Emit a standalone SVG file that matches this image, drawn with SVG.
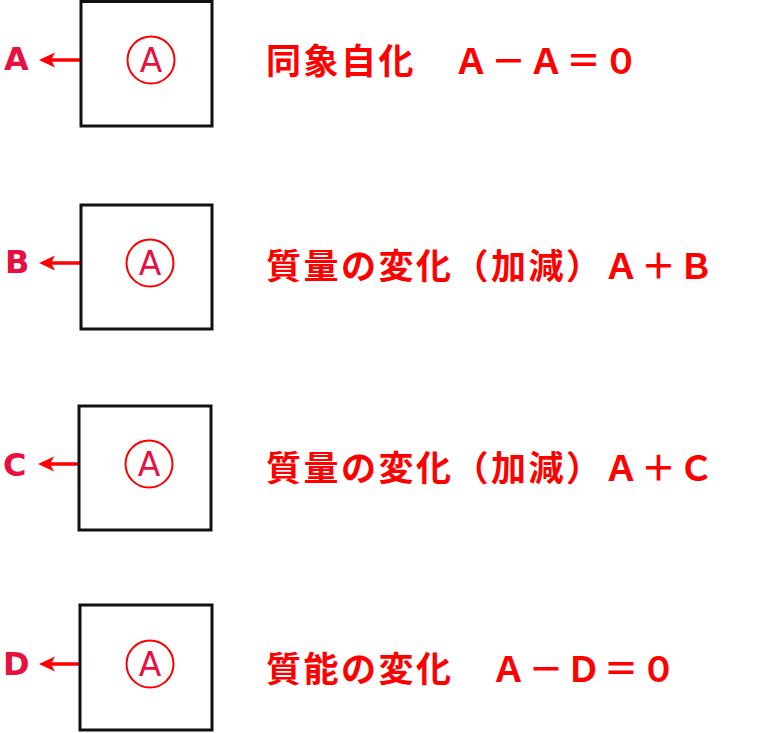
<svg xmlns="http://www.w3.org/2000/svg" width="769" height="733" viewBox="0 0 769 733">
<defs>
<path id="head" d="M0,0 L16,-7.5 L12,0 L16,7.5 Z" fill="#ff0000"/>
</defs>
<style>
.box{fill:#fff;stroke:#111;stroke-width:3}
.ring{fill:none;stroke:#ff0000;stroke-width:2}
.inA{font-family:"DejaVu Sans","Liberation Sans",sans-serif;font-size:33px;fill:#e8103f;text-anchor:middle}
.lbl{font-family:"DejaVu Sans","Liberation Sans",sans-serif;font-weight:bold;font-size:32px;fill:#e8103f}
.arr{stroke:#ff0000;stroke-width:3.5;fill:none}
.eq{font-family:"Noto Sans CJK JP","Noto Sans CJK SC",sans-serif;font-weight:bold;font-size:35px;letter-spacing:2.5px;fill:#ff0000}
</style>
<rect width="769" height="733" fill="#fff"/>
<g id="connectors">
<line class="arr" x1="88" y1="60" x2="50" y2="60"/>
<use href="#head" x="39" y="60"/>
<line class="arr" x1="88" y1="263" x2="50" y2="263"/>
<use href="#head" x="39" y="263"/>
<line class="arr" x1="86" y1="464" x2="49" y2="464"/>
<use href="#head" x="38" y="464"/>
<line class="arr" x1="87" y1="664" x2="50" y2="664"/>
<use href="#head" x="39" y="664"/>
</g>
<g id="node1">
<rect class="box" x="81" y="1.5" width="131" height="124.5"/>
<circle class="ring" cx="151" cy="60" r="23.5"/>
<text class="inA" x="151" y="72">A</text>
<text class="lbl" x="4" y="70">A</text>
<text class="eq" x="266" y="74">同象自化　Ａ－Ａ＝０</text>
</g>
<g id="node2">
<rect class="box" x="81" y="205" width="131" height="124"/>
<circle class="ring" cx="150" cy="263" r="23.5"/>
<text class="inA" x="150" y="275">A</text>
<text class="lbl" x="5" y="273">B</text>
<text class="eq" x="266" y="279">質量の変化（加減）Ａ＋Ｂ</text>
</g>
<g id="node3">
<rect class="box" x="79" y="406" width="132" height="124"/>
<circle class="ring" cx="149" cy="464" r="23.5"/>
<text class="inA" x="149" y="476">A</text>
<text class="lbl" x="3" y="476">C</text>
<text class="eq" x="266" y="481">質量の変化（加減）Ａ＋Ｃ</text>
</g>
<g id="node4">
<rect class="box" x="80" y="605" width="132" height="125"/>
<circle class="ring" cx="150" cy="664" r="23.5"/>
<text class="inA" x="150" y="676">A</text>
<text class="lbl" x="3" y="675">D</text>
<text class="eq" x="266" y="682">質能の変化　Ａ－Ｄ＝０</text>
</g>
</svg>
